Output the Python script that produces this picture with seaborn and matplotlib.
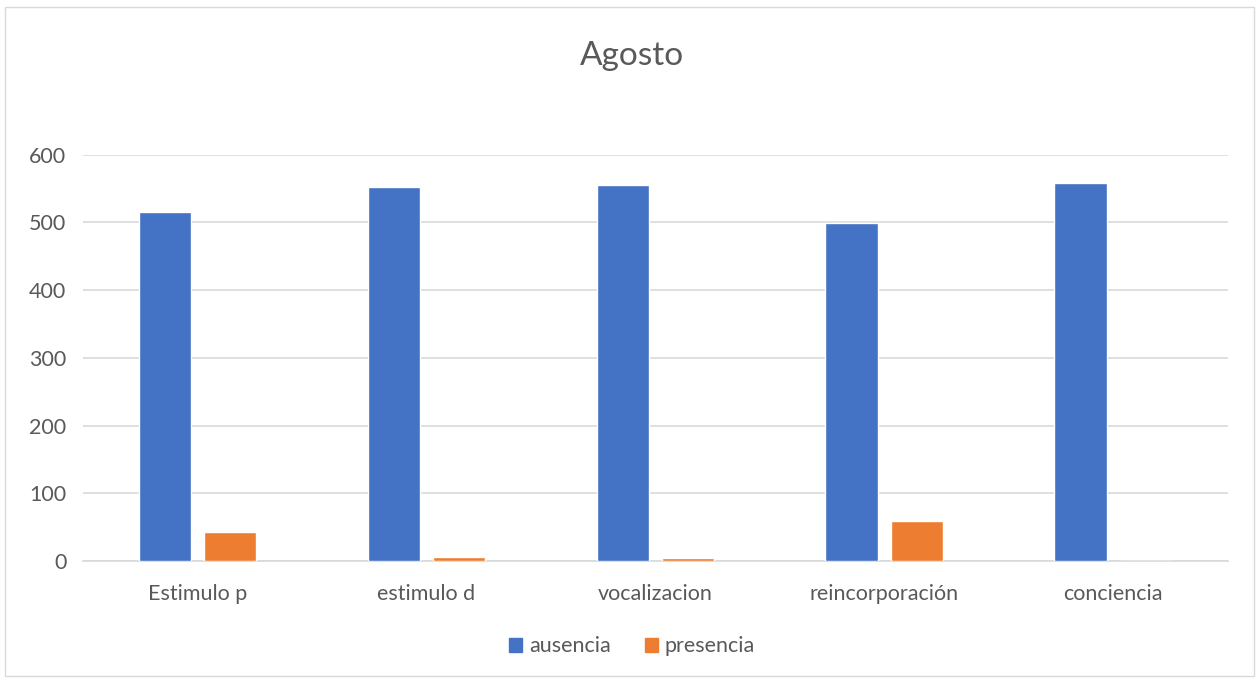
import matplotlib
matplotlib.use("Agg")
import matplotlib.pyplot as plt
import pandas as pd
import seaborn as sns
from matplotlib.patches import Rectangle

# data
categories = ["Estimulo p", "estimulo d", "vocalizacion", "reincorporación", "conciencia"]
ausencia = [515, 552, 555, 499, 558]
presencia = [43, 6, 4, 59, 0]
series = ["ausencia", "presencia"]
colors = ["#4472C4", "#ED7D31"]
yticks = [0, 100, 200, 300, 400, 500, 600]

df = pd.DataFrame({
    "categoria": categories * 2,
    "serie": ["ausencia"] * len(categories) + ["presencia"] * len(categories),
    "valor": ausencia + presencia,
})

sns.set_style("white")
plt.rcParams["font.family"] = ["Lato", "DejaVu Sans"]
text_col = "#595959"

fig = plt.figure(figsize=(12.59, 6.79), dpi=100)
ax = fig.add_axes([0.066, 0.174, 0.909, 0.598])

sns.barplot(data=df, x="categoria", y="valor", hue="serie", hue_order=series,
            palette=colors, width=0.57, gap=0.2, saturation=1, ax=ax,
            legend=False, errorbar=None)

ax.set_ylim(0, 600)
ax.set_xlim(-0.5, len(categories) - 0.5)
ax.set_yticks(yticks)
ax.yaxis.grid(True, color="#d9d9d9", linewidth=1.2)
ax.set_axisbelow(True)
for s in ["top", "right", "left"]:
    ax.spines[s].set_visible(False)
ax.spines["bottom"].set_color("#d9d9d9")
ax.spines["bottom"].set_linewidth(1.2)
ax.spines["bottom"].set_zorder(0.5)
ax.tick_params(axis="x", length=0, labelsize=15.5, colors=text_col, pad=17)
ax.tick_params(axis="y", length=0, labelsize=15.5, colors=text_col, pad=12)
ax.set_xlabel("")
ax.set_ylabel("")

fig.text(0.502, 0.918, "Agosto", ha="center", va="center", fontsize=24, color=text_col)

handles = [Rectangle((0, 0), 1, 1, color=c) for c in colors]
fig.legend(handles, series, loc="center", bbox_to_anchor=(0.502, 0.048), ncol=2,
           frameon=False, fontsize=15.5, labelcolor=text_col, handlelength=0.6,
           handleheight=0.6, handletextpad=0.3, columnspacing=1.6)

# thin border around the chart area
fig.patches.append(Rectangle((0.004, 0.004), 0.992, 0.985, transform=fig.transFigure,
                             fill=False, edgecolor="#d9d9d9", linewidth=1))

fig.savefig("out.png", dpi=100, facecolor="white")
